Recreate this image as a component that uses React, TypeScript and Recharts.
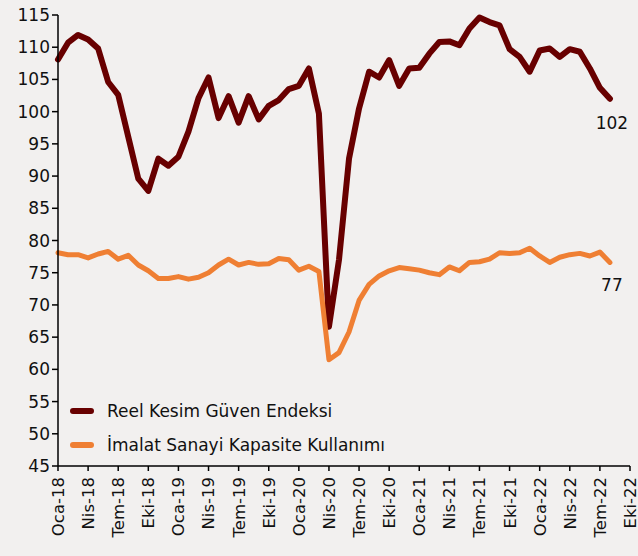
import React from "react";
import { LineChart, Line, XAxis, YAxis, LabelList } from "recharts";

const monthNames = ["Oca", "Şub", "Mar", "Nis", "May", "Haz", "Tem", "Ağu", "Eyl", "Eki", "Kas", "Ara"];

// Ocak 2018 - Ağustos 2022, aylık
const reelKesim = [
  108.1, 110.7, 111.9, 111.2, 109.8, 104.6, 102.6, 96.1, 89.6, 87.7, 92.7, 91.6,
  93.0, 96.9, 102.1, 105.3, 99.0, 102.4, 98.3, 102.4, 98.8, 100.9, 101.8, 103.5,
  104.0, 106.7, 99.7, 66.6, 77.0, 92.7, 100.5, 106.2, 105.3, 108.0, 104.0, 106.7,
  106.8, 109.0, 110.8, 110.9, 110.3, 112.9, 114.6, 113.9, 113.4, 109.7, 108.5, 106.2,
  109.5, 109.8, 108.5, 109.7, 109.3, 106.7, 103.7, 102.0,
];

const kapasite = [
  78.1, 77.8, 77.8, 77.3, 77.9, 78.3, 77.1, 77.7, 76.2, 75.3, 74.1, 74.1,
  74.4, 74.0, 74.3, 75.0, 76.2, 77.1, 76.2, 76.6, 76.3, 76.4, 77.2, 77.0,
  75.4, 76.0, 75.2, 61.5, 62.6, 65.8, 70.7, 73.2, 74.5, 75.3, 75.8, 75.6,
  75.4, 75.0, 74.7, 75.9, 75.3, 76.6, 76.7, 77.1, 78.1, 78.0, 78.1, 78.8,
  77.6, 76.6, 77.4, 77.8, 78.0, 77.6, 78.2, 76.6,
];

const yTicks = [45, 50, 55, 60, 65, 70, 75, 80, 85, 90, 95, 100, 105, 110, 115];
const xTicks = Array.from({ length: 20 }, (_, i) => i * 3);

const seriesNames = ["Reel Kesim Güven Endeksi", "İmalat Sanayi Kapasite Kullanımı"];
const colors = ["#680000", "#EF7F33"];

const monthLabel = (i: number) => {
  const y = 18 + Math.floor(i / 12);
  return `${monthNames[i % 12]}-${y}`;
};

const data = reelKesim.map((v, i) => ({ idx: i, reel: v, kap: kapasite[i] }));

const FONT = "'DejaVu Sans', sans-serif";

const XTick = (props: any) => {
  const { x, y, payload } = props;
  return (
    <text
      transform={`translate(${x},${y + 4}) rotate(-90)`}
      textAnchor="end"
      dy="0.36em"
      fontSize={16.5}
      fontFamily={FONT}
      fill="#111"
    >
      {monthLabel(payload.value)}
    </text>
  );
};

const endLabel = (last: number, text: string, dy: number) => (props: any) => {
  const { x, y, index } = props;
  if (index !== last) return null;
  return (
    <text x={x + 2} y={y + dy} textAnchor="middle" fontSize={17} fontFamily={FONT} fill="#111">
      {text}
    </text>
  );
};

export default function App() {
  const last = data.length - 1;
  return (
    <div style={{ position: "absolute", left: 0, top: 0, width: 638, height: 556, background: "#F2F0EF" }}>
      <LineChart width={638} height={556} data={data} margin={{ top: 15, right: 8, bottom: 0, left: 0 }}>
        <XAxis
          dataKey="idx"
          type="number"
          domain={[0, 57]}
          ticks={xTicks}
          interval={0}
          height={90}
          tick={<XTick />}
          axisLine={{ stroke: "#000", strokeWidth: 1.5 }}
          tickLine={{ stroke: "#000", strokeWidth: 1.5 }}
          tickSize={5}
        />
        <YAxis
          domain={[45, 115]}
          ticks={yTicks}
          interval={0}
          width={58}
          tick={{ fill: "#111", fontSize: 17, fontFamily: FONT }}
          axisLine={{ stroke: "#000", strokeWidth: 1.5 }}
          tickLine={{ stroke: "#000", strokeWidth: 1.5 }}
          tickSize={6}
        />
        <Line
          type="linear"
          dataKey="reel"
          name={seriesNames[0]}
          stroke={colors[0]}
          strokeWidth={6}
          dot={false}
          strokeLinejoin="round"
          strokeLinecap="round"
          isAnimationActive={false}
        >
          <LabelList dataKey="reel" content={endLabel(last, "102", 30)} />
        </Line>
        <Line
          type="linear"
          dataKey="kap"
          name={seriesNames[1]}
          stroke={colors[1]}
          strokeWidth={5}
          dot={false}
          strokeLinejoin="round"
          strokeLinecap="round"
          isAnimationActive={false}
        >
          <LabelList dataKey="kap" content={endLabel(last, "77", 29)} />
        </Line>
      </LineChart>
      <div
        style={{
          position: "absolute",
          left: 70,
          top: 394,
          fontFamily: FONT,
          fontSize: 17,
          color: "#111",
        }}
      >
        {seriesNames.map((n, i) => (
          <div key={n} style={{ display: "flex", alignItems: "center", height: 34 }}>
            <span
              style={{
                display: "inline-block",
                width: 24,
                height: 6,
                borderRadius: 3,
                background: colors[i],
                marginRight: 13,
              }}
            />
            {n}
          </div>
        ))}
      </div>
    </div>
  );
}
